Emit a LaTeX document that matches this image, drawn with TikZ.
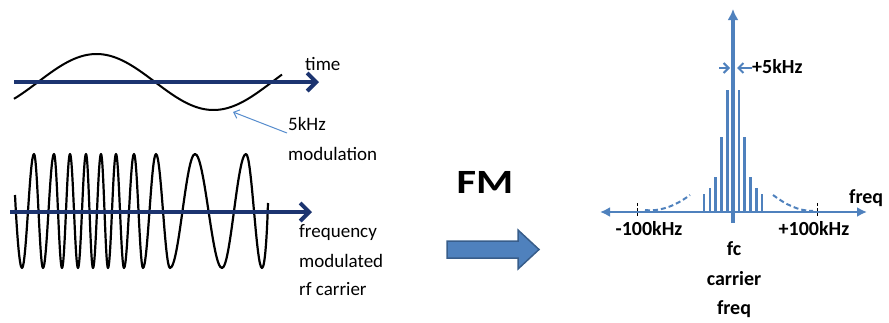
\documentclass[tikz,border=0pt]{standalone}
\usepackage{fontspec}
\setmainfont{Carlito}
\usetikzlibrary{arrows.meta}

\definecolor{navyaxis}{RGB}{28,52,112}
\definecolor{specblue}{RGB}{79,129,189}
\definecolor{specedge}{RGB}{56,93,138}
\definecolor{pointer}{RGB}{86,140,205}

\tikzset{
  timeaxis/.style={navyaxis, line width=4pt, -{Straight Barb[length=9pt,width=18pt,line width=4pt]}},
  wave/.style={black, line width=2pt, line join=round},
  lefttext/.style={font=\fontsize{19}{19}\selectfont, anchor=base west, inner sep=0pt},
  spectext/.style={font=\fontsize{20}{20}\selectfont\bfseries, anchor=base, inner sep=0pt},
  specaxis/.style={specblue, line width=2.6pt},
  specbar/.style={fill=specblue, draw=none},
  sidelobe/.style={specblue, line width=2pt, dash pattern=on 5pt off 3pt},
  tickmark/.style={black, line width=1pt, dash pattern=on 3pt off 2pt},
  devarrow/.style={specblue, line width=2pt, -{Straight Barb[length=5pt,width=10pt]}},
}

\begin{document}
\begin{tikzpicture}[x=1pt, y=-1pt]
\useasboundingbox (0,0) rectangle (889,322);

% ---------- modulating signal on the time axis ----------
\coordinate (tA) at (14,82);
\coordinate (tB) at (319,82);
\draw[wave] plot[domain=14:282, samples=120, smooth] (\x, {82 - 28*sin((\x-38)/234*360)});
\draw[timeaxis] (tA) -- (tB);
\node[lefttext] (ltime) at (305,70) {time};

\node[lefttext] (lfive) at (288,130) {5kHz};
\node[lefttext] (lmod) at (288,160) {modulation};
\coordinate (pStart) at (287,133);
\coordinate (pTip) at (233,112);
\draw[pointer, line width=1pt, -{Straight Barb[length=5pt,width=9pt]}] (pStart) -- (pTip);

% ---------- frequency modulated carrier ----------
\draw[wave, line width=2.2pt] (15,195) .. controls (17,235) and (19.5,268) .. (22,268)
  \foreach \xa/\xb/\yb in {22/34/154, 34/43/268, 43/54/154, 54/62/268, 62/70/154,
      70/78/268, 78/86/154, 86/93/268, 93/101/154, 101/108/268, 108/116/154,
      116/124/268, 124/134/154, 134/143/268, 143/156/154, 156/170/268,
      170/195/154, 195/222/268, 222/246/154, 246/262/268}
  { .. controls ({\xa+0.3634*(\xb-\xa)},{422-\yb}) and ({\xb-0.3634*(\xb-\xa)},\yb) .. (\xb,\yb) }
  .. controls (265,268) and (267,235) .. (268,203);
\coordinate (cA) at (10,212);
\coordinate (cB) at (312,212);
\draw[timeaxis] (cA) -- (cB);

\node[lefttext] (lfreq) at (299,237) {frequency};
\node[lefttext] (lmodd) at (299,267) {modulated};
\node[lefttext] (lrf) at (299,295) {rf carrier};

% ---------- FM label and block arrow ----------
\node[font=\fontsize{34}{34}\selectfont\bfseries, anchor=base, inner sep=0pt] (fm) at (485,193) {\scalebox{1.25}[1]{FM}};
\draw[fill=specblue, draw=specedge, line width=1.5pt, line join=miter]
  (447,241) -- (518,241) -- (518,230) -- (539,249.5) -- (518,269) -- (518,258) -- (447,258) -- cycle;

% ---------- spectrum ----------
\coordinate (sL) at (600,212);
\coordinate (sR) at (867,212);
\coordinate (sC) at (733,212);
\draw[specaxis, {Latex[length=10pt,width=10pt]}-{Latex[length=10pt,width=10pt]}] (sL) -- (sR);

% sidebands, mirrored about the carrier
\foreach \k/\top in {1/90, 2/137, 3/177, 4/188, 5/194} {
  \fill[specbar] ({733-5.8*\k-1.3},212) rectangle ({733-5.8*\k+1.3},\top);
  \fill[specbar] ({733+5.8*\k-1.3},212) rectangle ({733+5.8*\k+1.3},\top);
}
\coordinate (cBot) at (733,223);
\coordinate (cTop) at (733,9);
\draw[specblue, line width=3.5pt, -{Latex[length=11pt,width=11pt]}] (cBot) -- (cTop);

% low-level sidebands fading out towards +/-100kHz
\draw[sidelobe] (645,210) .. controls (662,212) and (678,204) .. (690,195);
\draw[sidelobe] (773,195) .. controls (785,204) and (798,211) .. (813,211);

% ticks at +/-100kHz
\draw[tickmark] (637,203) -- (637,217);
\draw[tickmark] (817,203) -- (817,217);

% deviation arrows around the carrier
\coordinate (dL0) at (719,68);
\coordinate (dL1) at (730,68);
\coordinate (dR0) at (752,68);
\coordinate (dR1) at (737,68);
\draw[devarrow] (dL0) -- (dL1);
\draw[devarrow] (dR0) -- (dR1);
\node[spectext, anchor=base west] (ldev) at (752,73) {+5kHz};

\node[spectext] (lm100) at (649,235) {-100kHz};
\node[spectext] (lp100) at (814,235) {+100kHz};
\node[spectext, anchor=base west] (lfaxis) at (849,203) {freq};
\node[spectext] (lfc) at (734,255) {fc};
\node[spectext] (lcar) at (734,285) {carrier};
\node[spectext] (lcf) at (734,314) {freq};
\end{tikzpicture}
\end{document}
